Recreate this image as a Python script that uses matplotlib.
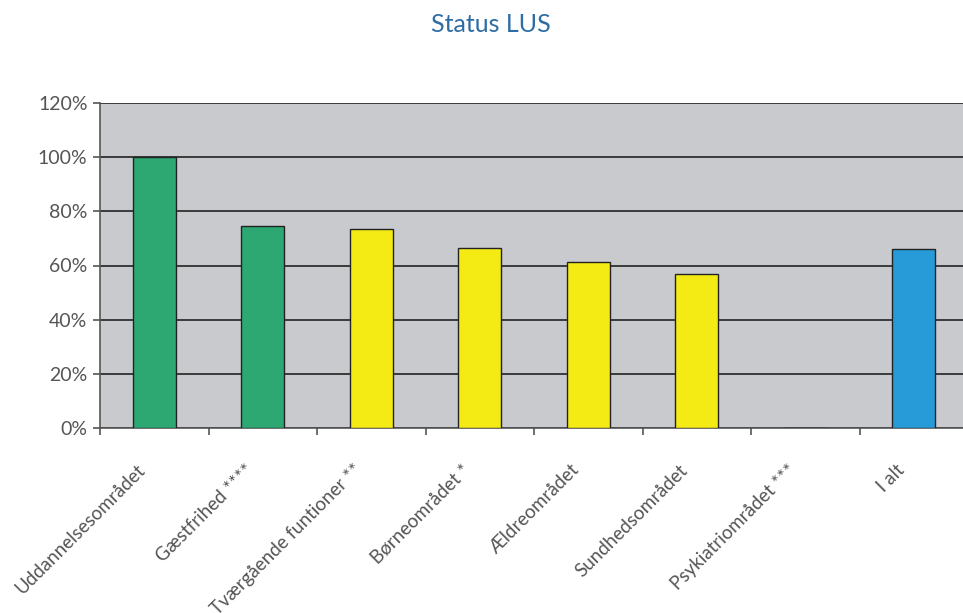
import numpy as np
import matplotlib.pyplot as plt
from matplotlib.transforms import ScaledTranslation

# data
categories = ["Uddannelsesområdet", "Gæstfrihed ****", "Tværgående funtioner **",
              "Børneområdet *", "Ældreområdet", "Sundhedsområdet",
              "Psykiatriområdet ***", "I alt"]
values = [100, 74.7, 73.6, 66.4, 61.2, 56.9, 0, 66.0]
colors = ["#2ea872", "#2ea872", "#f5eb14", "#f5eb14", "#f5eb14", "#f5eb14",
          "#f5eb14", "#279bd8"]

plt.rcParams['font.family'] = ['Lato', 'DejaVu Sans']

fig = plt.figure(figsize=(9.63, 6.13), dpi=100)
# right edge runs past the picture like in the original
ax = fig.add_axes([100/963, 1-428/613, 868/963, 325/613])

x = np.arange(len(categories))
ax.bar(x, values, width=0.4, color=colors, edgecolor="#222222", linewidth=1, zorder=3)

ax.set_facecolor("#c9cace")
ax.set_xlim(-0.5, len(categories) - 0.5)
ax.set_ylim(0, 120)
ax.set_yticks(np.arange(0, 121, 20))
ax.set_yticklabels([f"{v}%" for v in range(0, 121, 20)])
ax.yaxis.grid(True, color="#222222", linewidth=1.2, zorder=1)
ax.set_axisbelow(True)

ax.set_xticks(np.arange(-0.5, len(categories)), minor=True)
ax.set_xticks(x)
ax.set_xticklabels(categories, rotation=45, ha="right", rotation_mode="anchor",
                   fontsize=13.5, color="#555555")
ax.tick_params(axis="x", which="major", length=0, pad=24)
ax.tick_params(axis="x", which="minor", length=5, color="#555555", width=1.2)
ax.tick_params(axis="y", length=5, color="#555555", width=1.2, labelsize=14,
               labelcolor="#555555", pad=4)

off = ScaledTranslation(-18/100, 0, fig.dpi_scale_trans)
for lab in ax.get_xticklabels():
    lab.set_transform(lab.get_transform() + off)

for s in ["top", "right"]:
    ax.spines[s].set_visible(False)
ax.spines["left"].set_color("#555555")
ax.spines["left"].set_linewidth(1.2)
ax.spines["bottom"].set_color("#555555")
ax.spines["bottom"].set_linewidth(1.2)

fig.text(491/963, 1-24/613, "Status LUS", ha="center", va="center",
         fontsize=18, color="#2e6da4")

fig.savefig("out.png", dpi=100)
